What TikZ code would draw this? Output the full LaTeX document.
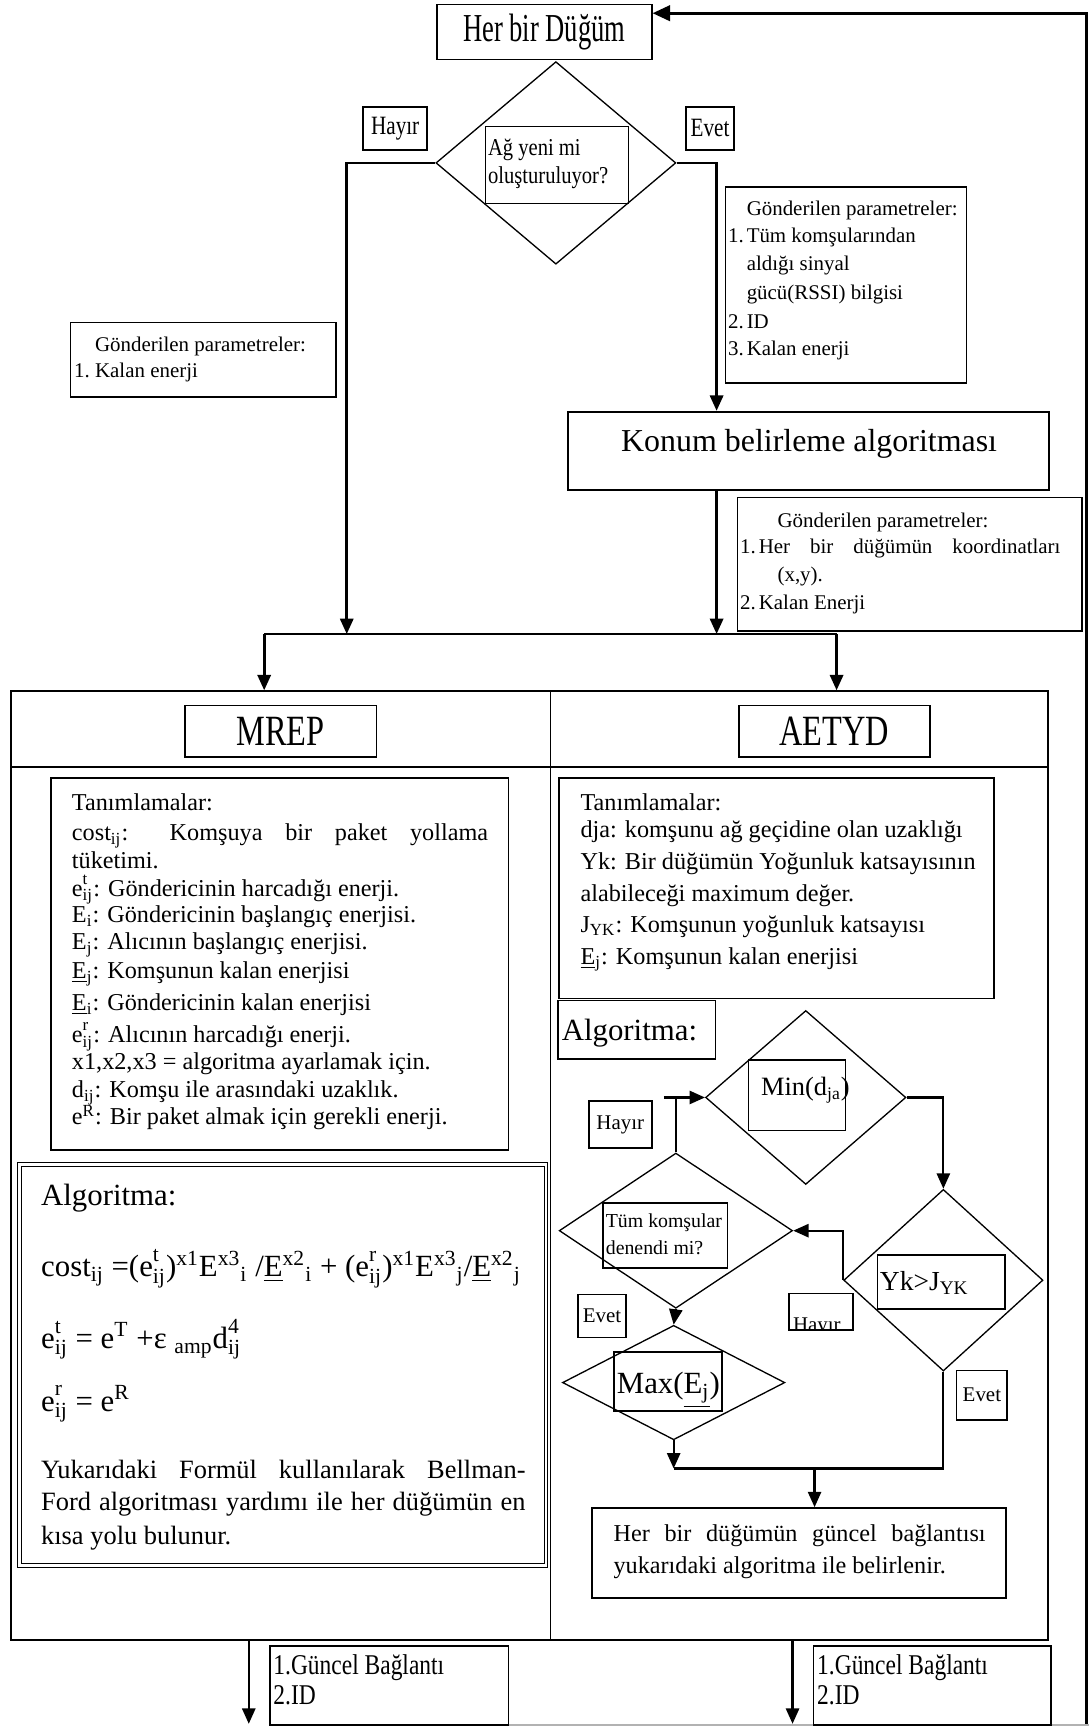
\documentclass[tikz,border=0pt]{standalone}
\usepackage{fontspec}
\setmainfont{Liberation Serif}
\usepackage{graphicx}
\usetikzlibrary{arrows.meta,fit,shapes.geometric}

% stacked superscript over subscript (e^t_ij)
\newcommand\supsb[2]{\rlap{\raisebox{0.12em}{\textsuperscript{#1}}}\raisebox{-0.05em}{\textsubscript{#2}}}
% font size shortcut
\newcommand\setfs[2]{\fontsize{#1}{#2}\selectfont}
% horizontally condensed text
\newcommand\narrow[2]{\scalebox{#1}[1]{#2}}

\tikzset{
  box/.style={draw, line width=0.8pt, inner sep=0pt},
  dia/.style={draw, diamond, line width=0.6pt, inner sep=0pt},
  txt/.style={inner sep=0pt, anchor=base west},
  ctxt/.style={inner sep=0pt},
  conn/.style={line width=1.2pt},
  arr/.style={conn, -{Triangle[length=7pt,width=6pt]}},
  pfont/.style={font={\setfs{9.5}{12}}},
  bfont/.style={font={\setfs{11}{13}}},
  mfont/.style={font={\setfs{12}{14}}},
  hfont/.style={font={\setfs{14}{16}}},
  ffont/.style={font={\setfs{14}{16}}},
  lfont/.style={font={\setfs{9.5}{11}}},
}

\begin{document}
\begin{tikzpicture}[x=0.5pt,y=-0.5pt]
\useasboundingbox (0,0) rectangle (989,1568);

% ---------- start node and first decision ----------
\node[box, fit={(397,4) (592,54)}] (hbd) {};
\node[ctxt, font={\setfs{18}{20}}] (hbdt) at (hbd) {\narrow{0.67}{Her bir Düğüm}};
\node[dia, minimum width=109pt, minimum height=92pt] (q1) at (505,148) {};
\node[box, line width=0.7pt, fit={(441,115) (571,185)}] (q1t) {};
\node[txt, font={\setfs{11}{12}}] (q1a) at (443,141) {\narrow{0.85}{Ağ yeni mi}};
\node[txt, font={\setfs{11}{12}}] (q1b) at (443,167) {\narrow{0.85}{oluşturuluyor?}};
\node[box, fit={(330,97) (388,136)}] (lh) {};
\node[ctxt, font={\setfs{12}{14}}] (lht) at (lh) {\narrow{0.8}{Hayır}};
\node[box, fit={(623,97) (667,136)}] (le) {};
\node[ctxt, font={\setfs{12}{14}}] (let) at (le) {\narrow{0.8}{Evet}};

% ---------- parameter boxes ----------
\node[box, fit={(64,293) (305,361)}] (pl) {};
\node[txt, pfont] (pl1) at (86,319) {Gönderilen parametreler:};
\node[txt, pfont] (pl2) at (67,343) {\makebox[9.5pt][l]{1.}Kalan enerji};

\node[box, fit={(659,170) (878,348)}] (pr) {};
\node[txt, pfont] (pr1) at (678,196) {Gönderilen parametreler:};
\node[txt, pfont] (pr2) at (661,220) {\makebox[8.5pt][l]{1.}Tüm komşularından};
\node[txt, pfont] (pr3) at (678,246) {aldığı sinyal};
\node[txt, pfont] (pr4) at (678,272) {gücü(RSSI) bilgisi};
\node[txt, pfont] (pr5) at (661,298) {\makebox[8.5pt][l]{2.}ID};
\node[txt, pfont] (pr6) at (661,323) {\makebox[8.5pt][l]{3.}Kalan enerji};

\node[box, fit={(516,374) (953,445)}] (konum) {};
\node[inner sep=0pt, anchor=base, font={\setfs{14.5}{16}}] (konumt) at (735,410) {Konum belirleme algoritması};

\node[box, fit={(670,452) (983,573)}] (pk) {};
\node[txt, pfont] (pk1) at (706,479) {Gönderilen parametreler:};
\node[txt, pfont] (pk2) at (672,503) {\makebox[8.5pt][l]{1.}\makebox[137pt][s]{Her bir düğümün koordinatları}};
\node[txt, pfont] (pk3) at (706,528) {(x,y).};
\node[txt, pfont] (pk4) at (672,554) {\makebox[8.5pt][l]{2.}Kalan Enerji};

% ---------- upper connectors ----------
\coordinate (rtop) at (987,12);
\coordinate (rbot) at (987,1568);
\coordinate (jl) at (315,576);
\coordinate (jr) at (651,576);
\coordinate (bl) at (240,576);
\coordinate (br) at (760,576);
\draw[line width=1.4pt, -{Triangle[length=8pt,width=7pt]}] (rbot) -- (rtop) -- (hbd.east |- rtop);
\draw[arr] (q1.west) -| (jl);
\draw[arr] (q1.east) -| (konum.north -| jr);
\draw[arr] (konum.south -| jr) -- (jr);
\draw[conn] (bl) -- (br);

% ---------- two-column frame ----------
\node[box, line width=0.9pt, fit={(10,628) (952,1490)}] (frame) {};
\coordinate (hsep) at (10,697);
\coordinate (mid) at (500,697);
\draw[line width=0.9pt] (frame.west |- hsep) -- (frame.east |- hsep);
\draw[line width=0.7pt] (frame.north -| mid) -- (frame.south -| mid);
\draw[arr] (bl) -- (bl |- frame.north);
\draw[arr] (br) -- (br |- frame.north);

\node[box, fit={(168,641) (342,688)}] (mrep) {};
\node[ctxt, font={\setfs{19.6}{22}}] (mrept) at (mrep) {\narrow{0.75}{MREP}};
\node[box, fit={(671,641) (845,688)}] (aetyd) {};
\node[ctxt, font={\setfs{19.6}{22}}] (aetydt) at (aetyd) {\narrow{0.75}{AETYD}};

% ---------- MREP definitions ----------
\node[box, fit={(46,707) (462,1045)}] (dl) {};
\node[txt, bfont] (dl1) at (65,736) {Tanımlamalar:};
\node[txt, bfont] (dl2) at (65,764) {\makebox[189pt][s]{cost\textsubscript{ij}: Komşuya bir paket yollama}};
\node[txt, bfont] (dl3) at (65,789) {tüketimi.};
\node[txt, bfont] (dl4) at (65,814) {e\supsb{t}{ij}: Göndericinin harcadığı enerji.};
\node[txt, bfont] (dl5) at (65,838) {E\textsubscript{i}: Göndericinin başlangıç enerjisi.};
\node[txt, bfont] (dl6) at (65,863) {E\textsubscript{j}: Alıcının başlangıç enerjisi.};
\node[txt, bfont] (dl7) at (65,889) {\underline{E}\textsubscript{j}: Komşunun kalan enerjisi};
\node[txt, bfont] (dl8) at (65,918) {\underline{E}\textsubscript{i}: Göndericinin kalan enerjisi};
\node[txt, bfont] (dl9) at (65,947) {e\supsb{r}{ij}: Alıcının harcadığı enerji.};
\node[txt, bfont] (dl10) at (65,972) {x1,x2,x3 = algoritma ayarlamak için.};
\node[txt, bfont] (dl11) at (65,997) {d\textsubscript{ij}: Komşu ile arasındaki uzaklık.};
\node[txt, bfont] (dl12) at (65,1022) {e\textsuperscript{R}: Bir paket almak için gerekli enerji.};

% ---------- MREP algorithm ----------
\node[box, line width=0.5pt, double, double distance=1.2pt, fit={(18,1058) (496,1422)}] (al) {};
\node[txt, hfont] (al1) at (37,1095) {Algoritma:};
\node[txt, ffont] (al2) at (37,1160) {cost\textsubscript{ij} =(e\supsb{t}{ij})\textsuperscript{x1}E\textsuperscript{x3}\textsubscript{i} /\underline{E}\textsuperscript{x2}\textsubscript{i} + (e\supsb{r}{ij})\textsuperscript{x1}E\textsuperscript{x3}\textsubscript{j}/\underline{E}\textsuperscript{x2}\textsubscript{j}};
\node[txt, ffont] (al3) at (37,1225) {e\supsb{t}{ij} = e\textsuperscript{T} +ε \textsubscript{amp}d\supsb{4}{ij}};
\node[txt, ffont] (al4) at (37,1282) {e\supsb{r}{ij} = e\textsuperscript{R}};
\node[txt, mfont] (al5) at (37,1343) {\makebox[220pt][s]{Yukarıdaki Formül kullanılarak Bellman-}};
\node[txt, mfont] (al6) at (37,1372) {\makebox[220pt][s]{Ford algoritması yardımı ile her düğümün en}};
\node[txt, mfont] (al7) at (37,1403) {kısa yolu bulunur.};

% ---------- AETYD definitions ----------
\node[box, fit={(508,707) (903,907)}] (dr) {};
\node[txt, bfont] (dr1) at (527,736) {Tanımlamalar:};
\node[txt, bfont] (dr2) at (527,761) {dja: komşunu ağ geçidine olan uzaklığı};
\node[txt, bfont] (dr3) at (527,790) {Yk: Bir düğümün Yoğunluk katsayısının};
\node[txt, bfont] (dr4) at (527,819) {alabileceği maximum değer.};
\node[txt, bfont] (dr5) at (527,847) {J\textsubscript{YK}: Komşunun yoğunluk katsayısı};
\node[txt, bfont] (dr6) at (527,876) {\underline{E}\textsubscript{j}: Komşunun kalan enerjisi};

% ---------- AETYD algorithm ----------
\node[box, fit={(507,909) (650,962)}] (ar) {};
\node[txt, hfont] (ar1) at (510,945) {Algoritma:};

\node[dia, minimum width=91pt, minimum height=79pt] (dmin) at (732,997) {};
\node[box, line width=0.7pt, fit={(680,963) (768,1027)}] (dmint) {};
\node[txt, font={\setfs{12}{14}}] (dmin1) at (691,995) {Min(d\textsubscript{ja})};

\node[dia, minimum width=106pt, minimum height=70.5pt] (dtum) at (614,1118) {};
\node[box, line width=0.7pt, fit={(548,1093) (661,1152)}] (dtumt) {};
\node[txt, font={\setfs{9}{11}}] (dtum1) at (550,1115) {Tüm komşular};
\node[txt, font={\setfs{9}{11}}] (dtum2) at (550,1140) {denendi mi?};

\node[dia, minimum width=90.5pt, minimum height=82.5pt] (dyk) at (857,1163) {};
\node[box, line width=0.7pt, fit={(797,1140) (913,1189)}] (dykt) {};
\node[txt, font={\setfs{12.5}{14}}] (dyk1) at (799,1172) {Yk>J\textsubscript{YK}};

\node[dia, minimum width=101pt, minimum height=52pt] (dmax) at (612,1256) {};
\node[box, line width=0.7pt, fit={(558,1228) (656,1282)}] (dmaxt) {};
\node[txt, hfont] (dmax1) at (560,1266) {Max(\underline{E\textsubscript{j}})};

\node[box, fit={(535,1000) (592,1043)}] (ah) {};
\node[ctxt, lfont] (aht) at (ah) {Hayır};
\node[box, fit={(525,1176) (569,1215)}] (ae1) {};
\node[ctxt, lfont] (ae1t) at (ae1) {Evet};
\node[box, fit={(869,1245) (915,1290)}] (ae2) {};
\node[ctxt, lfont] (ae2t) at (ae2) {Evet};
\node[box, fit={(717,1175) (775,1208)}] (ah2) {};
\begin{scope}
  \clip (ah2.south west) rectangle (ah2.north east);
  \node[txt, lfont] (ah2t) at (720,1210) {Hayır};
\end{scope}

\coordinate (stub) at (603,997);
\coordinate (jb) at (740,1334);
\draw[line width=1pt] (stub) -- (stub -| dtum.north);
\draw[arr, line width=1pt] (dtum.north) |- (dmin.west);
\draw[arr, line width=1pt] (dmin.east) -| (dyk.north);
\draw[arr, line width=1pt] (dyk.west) |- (dtum.east);
\draw[arr, line width=1pt] (dtum.south) -- (dmax.north);
\draw[arr, line width=1pt] (dmax.south) -- (dmax.south |- jb);
\draw[line width=1pt] (dyk.south) -- (dyk.south |- jb) -- (dmax.south |- jb);

\node[box, fit={(538,1370) (914,1452)}] (fb) {};
\draw[arr, line width=1pt] (jb) -- (jb |- fb.north);
\node[txt, bfont] (fb1) at (557,1400) {\makebox[169pt][s]{Her bir düğümün güncel bağlantısı}};
\node[txt, bfont] (fb2) at (557,1429) {yukarıdaki algoritma ile belirlenir.};

% ---------- outputs at the bottom ----------
\coordinate (o1) at (226,1566);
\coordinate (o2) at (720,1566);
\draw[conn, line width=1pt, -{Triangle[length=7pt,width=6pt]}] (frame.south -| o1) -- (o1);
\draw[conn, line width=1pt, -{Triangle[length=7pt,width=6pt]}] (frame.south -| o2) -- (o2);
\draw[gray!60, line width=0.6pt] (245,1567) -- (989,1567);
\node[box, fit={(245,1495) (462,1567)}] (ob1) {};
\node[txt, font={\setfs{13}{15}}] (ob1a) at (248,1521) {\narrow{0.82}{1.Güncel Bağlantı}};
\node[txt, font={\setfs{13}{15}}] (ob1b) at (248,1548) {\narrow{0.82}{2.ID}};
\node[box, fit={(739,1495) (955,1567)}] (ob2) {};
\node[txt, font={\setfs{13}{15}}] (ob2a) at (742,1521) {\narrow{0.82}{1.Güncel Bağlantı}};
\node[txt, font={\setfs{13}{15}}] (ob2b) at (742,1548) {\narrow{0.82}{2.ID}};
\end{tikzpicture}
\end{document}
